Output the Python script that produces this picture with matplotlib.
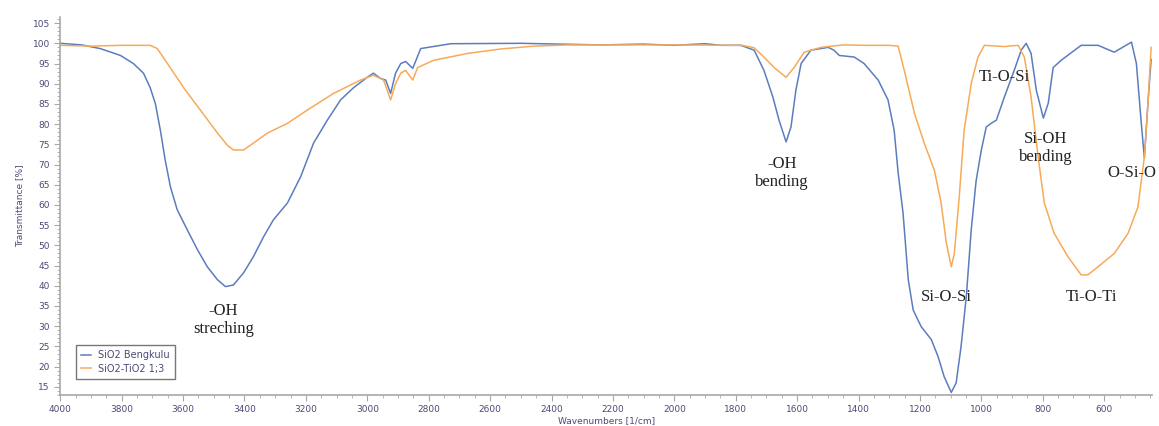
import numpy as np
import matplotlib.pyplot as plt
from matplotlib.ticker import MultipleLocator

# FTIR spectra, wavenumber (1/cm) vs transmittance (%)
wn_sio2 = [4000, 3930, 3870, 3804, 3762, 3729, 3707, 3690, 3674, 3658, 3641, 3619,
           3586, 3553, 3521, 3488, 3462, 3436, 3403, 3371, 3338, 3306, 3260, 3217,
           3175, 3130, 3087, 3045, 3000, 2980, 2957, 2940, 2924, 2908, 2891, 2875,
           2852, 2826, 2728, 2500, 2240, 2100, 2000, 1900, 1848, 1783, 1740, 1708,
           1679, 1659, 1636, 1620, 1604, 1587, 1555, 1499, 1480, 1463, 1414, 1382,
           1336, 1304, 1284, 1271, 1255, 1238, 1222, 1196, 1163, 1141, 1121, 1098,
           1082, 1066, 1049, 1033, 1017, 1000, 984, 968, 951, 925, 893, 870, 854,
           838, 821, 798, 782, 766, 740, 675, 620, 567, 511, 495, 479, 469, 456, 447]
t_sio2 = [100, 99.6, 98.7, 97, 95, 92.6, 89, 85, 78.5, 71, 64.4, 58.8,
          53.8, 48.9, 44.7, 41.5, 39.8, 40.2, 43.2, 47.2, 52.1, 56.3, 60.5, 67,
          75.3, 81, 86, 89, 91.6, 92.6, 91.3, 90.9, 87.6, 92.6, 95, 95.5,
          93.8, 98.7, 99.9, 100, 99.6, 99.8, 99.5, 99.9, 99.5, 99.5, 98.3, 93.3,
          86.7, 81, 75.6, 79.3, 88.4, 95, 98.3, 99, 98.3, 97, 96.6, 95,
          90.9, 86, 78.5, 68, 58, 41.5, 34, 29.9, 26.7, 22.5, 17.5, 13.6,
          16, 25, 37.3, 53.8, 66, 73.6, 79.3, 80.2, 81, 86.7, 93.3, 98.3, 100,
          97.5, 88.4, 81.5, 85.2, 94, 95.8, 99.5, 99.5, 97.8, 100.3, 95, 80.2, 71.6, 86.7, 96]

wn_tio2 = [4000, 3900, 3800, 3707, 3684, 3651, 3598, 3544, 3488, 3456, 3436, 3403,
           3371, 3325, 3260, 3195, 3110, 3022, 2980, 2947, 2924, 2908, 2891, 2875,
           2852, 2836, 2784, 2673, 2565, 2458, 2347, 2000, 1780, 1740, 1708, 1675,
           1636, 1610, 1577, 1522, 1450, 1380, 1300, 1271, 1251, 1218, 1186, 1153,
           1131, 1114, 1098, 1088, 1072, 1056, 1033, 1011, 990, 925, 880, 860,
           838, 815, 795, 763, 718, 675, 653, 620, 567, 522, 490, 469, 456, 447]
t_tio2 = [99.5, 99.3, 99.5, 99.5, 98.7, 95, 89, 83.5, 77.8, 74.8, 73.6, 73.6,
          75.3, 77.8, 80.2, 83.5, 87.6, 90.9, 92.1, 90.9, 86, 90, 92.6, 93.3,
          90.9, 94, 95.8, 97.5, 98.6, 99.3, 99.6, 99.6, 99.5, 98.9, 96.6, 94,
          91.6, 94, 97.8, 99, 99.6, 99.5, 99.5, 99.3, 93.3, 82.7, 75.3, 68.6,
          60.5, 50.6, 44.7, 48, 62, 78.5, 90, 96.6, 99.5, 99.2, 99.5, 96.6,
          86.7, 71.9, 60.5, 53, 47.2, 42.7, 42.7, 44.7, 48, 53, 59.5, 71.9, 86.7, 99]

labels = ["-OH\nstreching", "-OH\nbending", "Si-O-Si", "Ti-O-Si",
          "Si-OH\nbending", "O-Si-O", "Ti-O-Ti"]
label_x = [3469, 1649, 1113, 925, 790, 510, 642]
label_y = [31.5, 68, 37.3, 91.6, 74, 68, 37.3]

blue = "#5b7dbd"
orange = "#f7aa58"
tick_col = "#4b4a78"
axis_col = "#a8a8a8"

fig = plt.figure(figsize=(11.59, 4.26), dpi=100)
ax = fig.add_axes([0.052, 0.073, 0.942, 0.887])

ax.plot(wn_sio2, t_sio2, color=blue, lw=1.1, label="SiO2 Bengkulu")
ax.plot(wn_tio2, t_tio2, color=orange, lw=1.1, label="SiO2-TiO2 1;3")

for txt, x, y in zip(labels, label_x, label_y):
    ax.text(x, y, txt, ha="center", va="center", fontsize=12,
            family="Liberation Serif", color="#222222", linespacing=1.15)

ax.set_xlim(4000, 444)
ax.set_ylim(13, 106.5)
ax.xaxis.set_minor_locator(MultipleLocator(50))
ax.yaxis.set_minor_locator(MultipleLocator(1))
ax.set_yticks(np.arange(15, 106, 5))
ax.set_xticks(np.arange(600, 4001, 200))

for s in ["top", "right"]:
    ax.spines[s].set_visible(False)
for s in ["left", "bottom"]:
    ax.spines[s].set_color(axis_col)
    ax.spines[s].set_linewidth(1.2)

ax.tick_params(which="both", colors=axis_col, labelcolor=tick_col, labelsize=6.5)
ax.tick_params(which="major", length=4)
ax.tick_params(which="minor", length=2)

ax.set_xlabel("Wavenumbers [1/cm]", fontsize=6.5, color=tick_col, labelpad=1)
ax.set_ylabel("Transmittance [%]", fontsize=6.5, color=tick_col, labelpad=6)

leg = ax.legend(loc="lower left", bbox_to_anchor=(0.01, 0.03), fontsize=7,
                frameon=True, fancybox=False, handlelength=1.0,
                borderpad=0.5, labelspacing=0.4)
leg.get_frame().set_edgecolor("#555555")
leg.get_frame().set_linewidth(1.0)
for t in leg.get_texts():
    t.set_color(tick_col)

fig.savefig("out.png", dpi=100)
